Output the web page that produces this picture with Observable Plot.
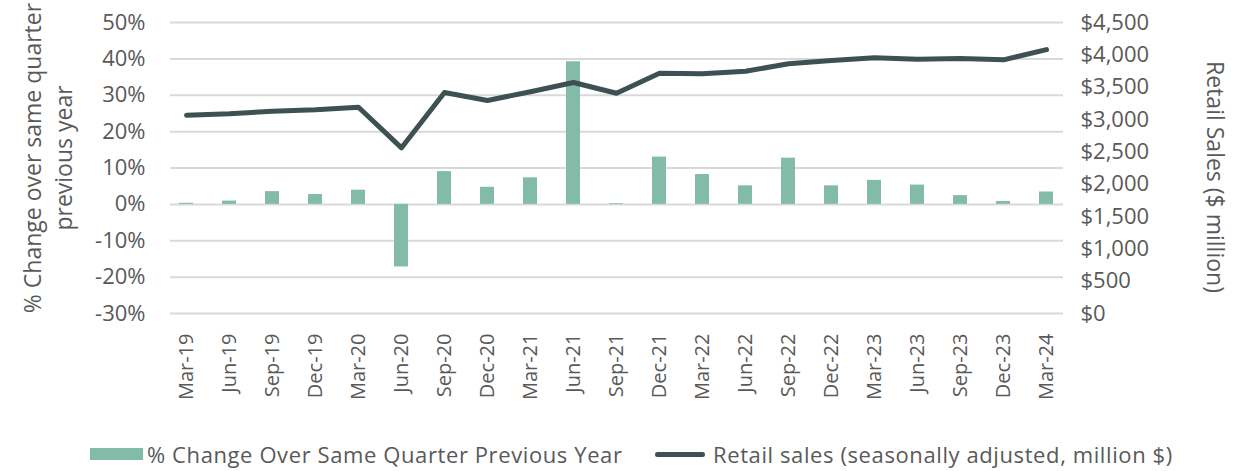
<!DOCTYPE html>
<html>
<head>
<meta charset="utf-8">
<script src="https://cdn.jsdelivr.net/npm/d3@7"></script>
<script src="https://cdn.jsdelivr.net/npm/@observablehq/plot@0.6"></script>
<style>
  html, body { margin: 0; padding: 0; background: #fff; }
  body { width: 1258px; height: 471px; overflow: hidden; font-family: "Open Sans", sans-serif; }
  #legend { position: relative; width: 1258px; height: 51px; color: #595959; font-size: 22px; letter-spacing: 0.6px; }
  #legend .sw { position: absolute; }
  #legend .lbl { position: absolute; top: 21px; line-height: 26px; white-space: nowrap; }
</style>
</head>
<body>
<div id="chart"></div>
<div id="legend">
  <div class="sw" style="left:90px; top:28px; width:53px; height:12px; background:#82bba9;"></div>
  <div class="lbl" style="left:147px;">% Change Over Same Quarter Previous Year</div>
  <div class="sw" style="left:655px; top:32px; width:50px; height:5px; border-radius:3px; background:#3e5152;"></div>
  <div class="lbl" style="left:713px;">Retail sales (seasonally adjusted, million $)</div>
</div>
<script>
const quarters = ["Mar-19","Jun-19","Sep-19","Dec-19","Mar-20","Jun-20","Sep-20","Dec-20","Mar-21","Jun-21","Sep-21","Dec-21","Mar-22","Jun-22","Sep-22","Dec-22","Mar-23","Jun-23","Sep-23","Dec-23","Mar-24"];
const pctChange = [0.3, 0.9, 3.5, 2.7, 3.9, -17.2, 9.0, 4.7, 7.3, 39.2, 0.2, 13.0, 8.2, 5.1, 12.7, 5.1, 6.6, 5.3, 2.4, 0.8, 3.4];
const retailSales = [3066, 3088, 3128, 3150, 3190, 2562, 3417, 3294, 3430, 3572, 3406, 3716, 3706, 3747, 3861, 3912, 3954, 3933, 3943, 3923, 4080];
const pctTicks = [-30, -20, -10, 0, 10, 20, 30, 40, 50];
const salesTicks = [0, 500, 1000, 1500, 2000, 2500, 3000, 3500, 4000, 4500];

// map secondary axis (sales, 0..4500) onto the primary % scale (-30..50)
const salesToPct = v => -30 + (v / 4500) * 80;
const pctToSales = p => (p + 30) / 80 * 4500;

const data = quarters.map((q, i) => ({q, pct: pctChange[i], sales: retailSales[i]}));

const textColor = "#595959";

const chart = Plot.plot({
  width: 1258,
  height: 420,
  marginLeft: 170,
  marginRight: 195,
  marginTop: 22,
  marginBottom: 107,
  style: {fontFamily: "Open Sans, sans-serif", color: textColor, background: "#fff"},
  x: {type: "band", domain: quarters, paddingInner: 0.67, paddingOuter: 0},
  y: {domain: [-30, 50]},
  marks: [
    Plot.gridY(pctTicks, {stroke: "#d9d9d9", strokeOpacity: 1, strokeWidth: 2}),
    Plot.barY(data, {x: "q", y: "pct", fill: "#82bba9"}),
    Plot.line(data, {x: "q", y: d => salesToPct(d.sales), stroke: "#3e5152", strokeWidth: 5, strokeLinejoin: "round", strokeLinecap: "round"}),
    Plot.axisY(pctTicks, {anchor: "left", tickSize: 0, tickPadding: 25, tickFormat: d => d + "%", fontSize: 22, label: null, fill: textColor}),
    Plot.axisY(salesTicks.map(salesToPct), {anchor: "right", tickSize: 0, tickPadding: 17, tickFormat: d => "$" + d3.format(",")(Math.round(pctToSales(d))), fontSize: 22, label: null, fill: textColor}),
    Plot.axisX({tickRotate: -90, tickSize: 0, tickPadding: 20, fontSize: 20, label: null, fill: textColor}),
    Plot.text(["% Change over same quarter\nprevious year"], {frameAnchor: "left", textAnchor: "middle", lineAnchor: "middle", dx: -124, dy: -10, rotate: -90, fontSize: 23, lineHeight: 1.35, fill: textColor}),
    Plot.text(["Retail Sales ($ million)"], {frameAnchor: "right", textAnchor: "middle", lineAnchor: "middle", dx: 151, dy: 9, rotate: 90, fontSize: 23, fill: textColor})
  ]
});
document.getElementById("chart").appendChild(chart);
</script>
</body>
</html>
